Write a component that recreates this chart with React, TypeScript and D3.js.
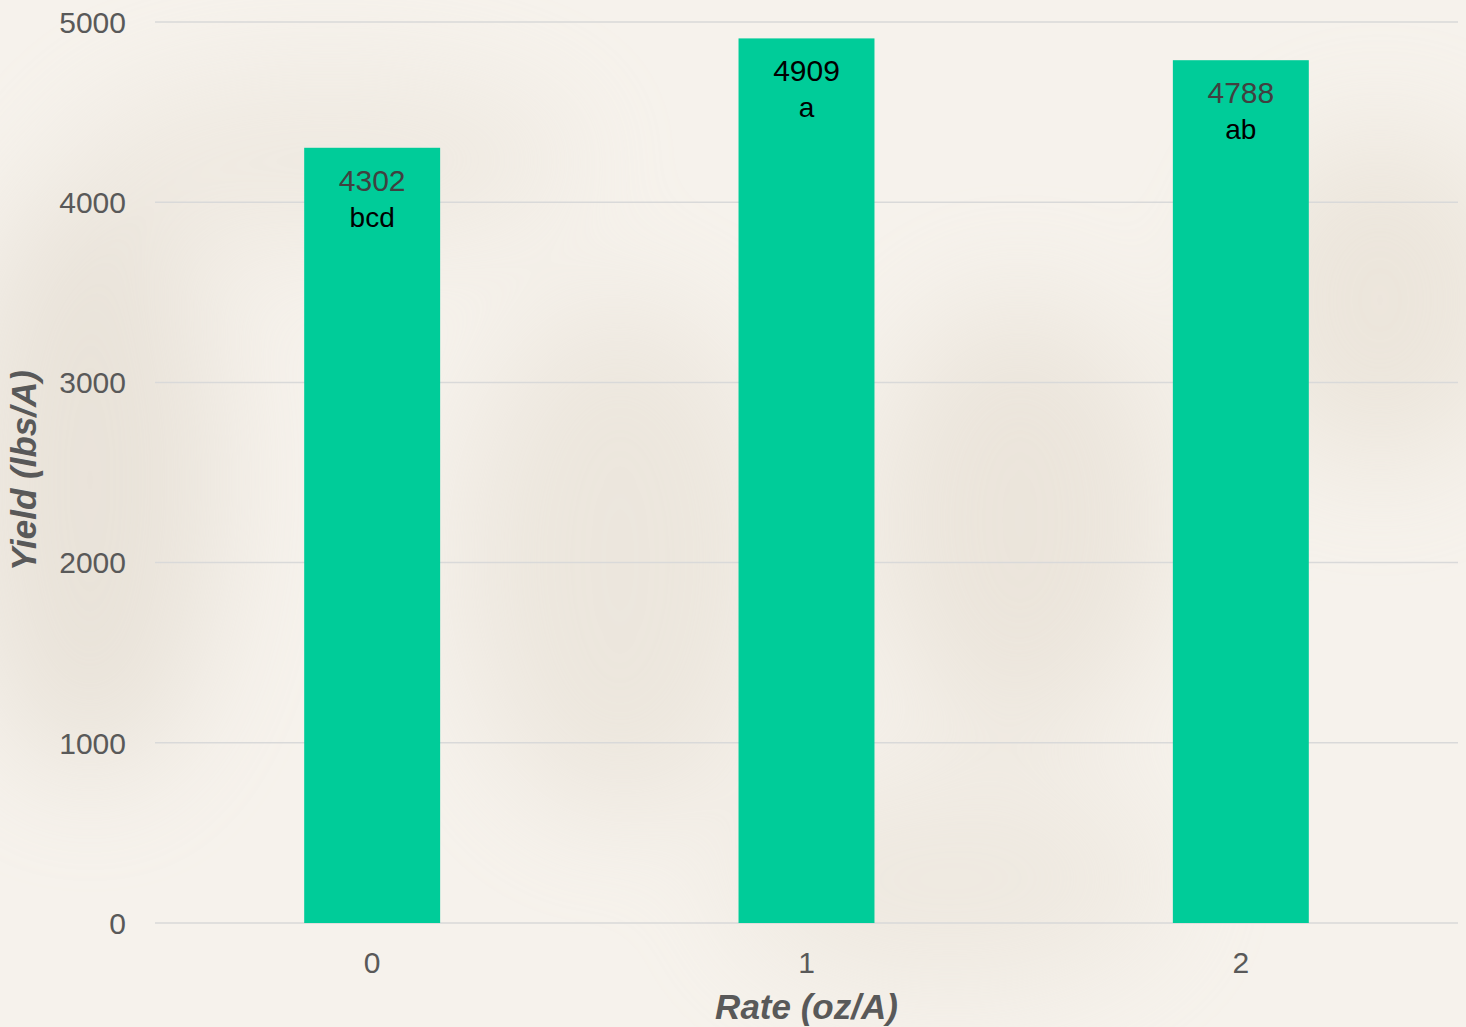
import * as d3 from 'd3';

const rates = ['0', '1', '2'];
const yields = [4302, 4909, 4788];
const letters = ['bcd', 'a', 'ab'];
const valueColors = ['#404040', '#000000', '#404040'];
const yTicks = [0, 1000, 2000, 3000, 4000, 5000];

const W = 1466;
const H = 1027;
const margin = { top: 22, right: 8, bottom: 104, left: 155 };

export default function App() {
  const innerW = W - margin.left - margin.right;
  const innerH = H - margin.top - margin.bottom;

  const x = d3.scaleBand<string>().domain(rates).range([0, innerW]).paddingInner(0.687).paddingOuter(0.3435);
  const y = d3.scaleLinear().domain([0, 5000]).range([innerH, 0]);

  const font = '"Liberation Sans", Arial, sans-serif';

  return (
    <svg width={W} height={H} style={{ position: 'absolute', left: 0, top: 0 }}>
      <defs>
        <filter id="blur" x="-50%" y="-50%" width="200%" height="200%">
          <feGaussianBlur stdDeviation="60" />
        </filter>
      </defs>
      {/* faded photo-like background */}
      <rect width={W} height={H} fill="#f6f2ec" />
      <g filter="url(#blur)" opacity={0.4}>
        <ellipse cx={90} cy={480} rx={130} ry={300} fill="#d6ccbd" />
        <ellipse cx={620} cy={560} rx={160} ry={260} fill="#ded5c7" />
        <ellipse cx={1020} cy={520} rx={150} ry={220} fill="#dbd1c2" />
        <ellipse cx={1380} cy={300} rx={140} ry={170} fill="#ddd3c3" />
        <ellipse cx={330} cy={160} rx={250} ry={80} fill="#e3dbcf" />
        <ellipse cx={950} cy={880} rx={220} ry={110} fill="#e3dbcf" />
      </g>
      <g transform={`translate(${margin.left},${margin.top})`} fontFamily={font}>
        {yTicks.map(t => (
          <g key={t}>
            <line x1={0} x2={innerW} y1={y(t)} y2={y(t)} stroke="#d9d9d9" strokeWidth={1.5} />
            <text x={-29} y={y(t)} dy="0.36em" textAnchor="end" fontSize={30} fill="#595959">{t}</text>
          </g>
        ))}
        {rates.map((r, i) => {
          const bx = x(r)!;
          const cx = bx + x.bandwidth() / 2;
          const top = y(yields[i]);
          return (
            <g key={r}>
              <rect x={bx} y={top} width={x.bandwidth()} height={innerH - top} fill="#00cc99" />
              <text x={cx} y={top + 43} textAnchor="middle" fontSize={30} fill={valueColors[i]}>{yields[i]}</text>
              <text x={cx} y={top + 79} textAnchor="middle" fontSize={28} fill="#000000">{letters[i]}</text>
              <text x={cx} y={innerH + 50} textAnchor="middle" fontSize={30} fill="#595959">{r}</text>
            </g>
          );
        })}
        <text x={innerW / 2} y={innerH + 96} textAnchor="middle" fontSize={35} fontWeight="bold" fontStyle="italic" fill="#595959">Rate (oz/A)</text>
        <text transform={`translate(${-119},${innerH / 2 - 2}) rotate(-90)`} textAnchor="middle" fontSize={35} fontWeight="bold" fontStyle="italic" fill="#595959">Yield (lbs/A)</text>
      </g>
    </svg>
  );
}
